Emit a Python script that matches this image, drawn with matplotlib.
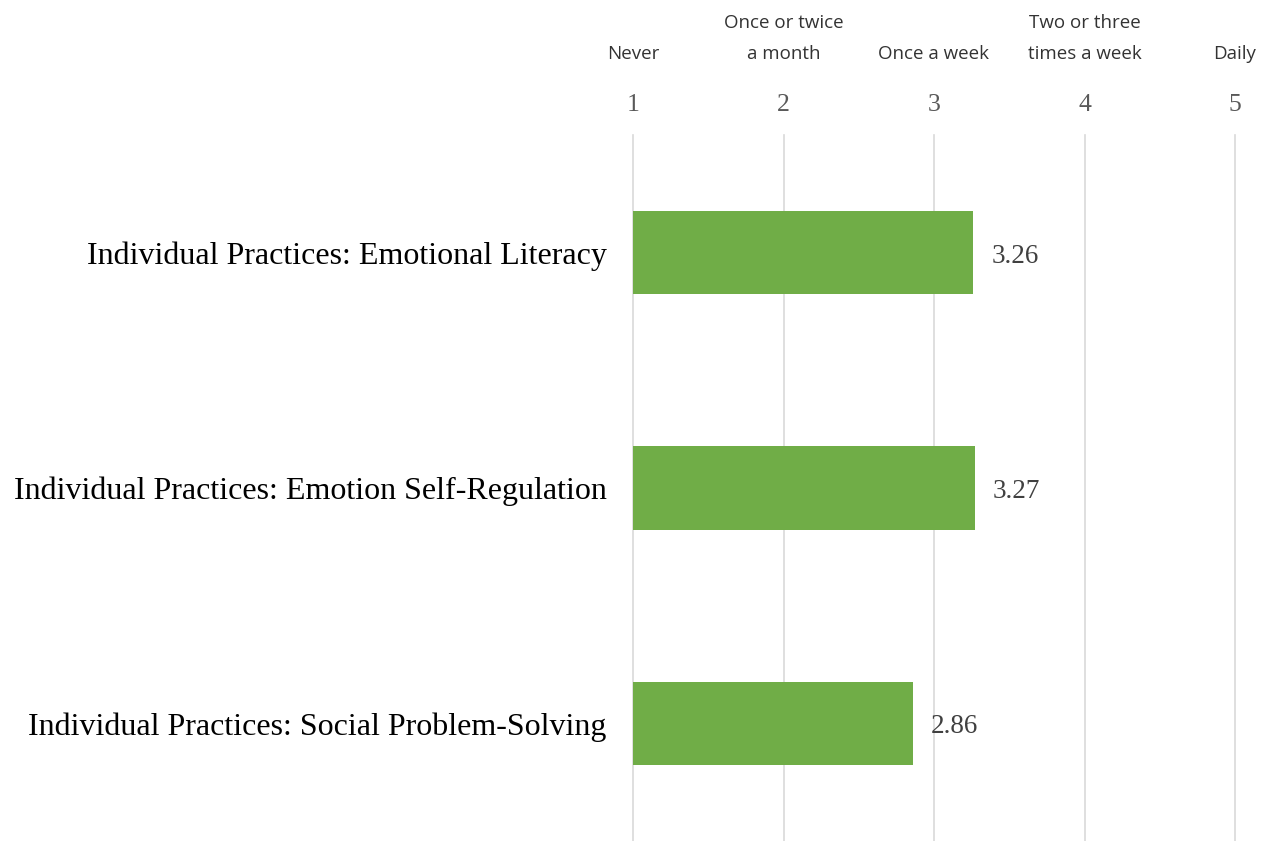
import matplotlib
matplotlib.use("Agg")
import matplotlib.pyplot as plt
import matplotlib.transforms as mtransforms

categories = [
    "Individual Practices: Emotional Literacy",
    "Individual Practices: Emotion Self-Regulation",
    "Individual Practices: Social Problem-Solving",
]
values = [3.26, 3.27, 2.86]
scale_ticks = [1, 2, 3, 4, 5]
scale_labels = ["Never", "Once or twice\na month", "Once a week",
                "Two or three\ntimes a week", "Daily"]

green = "#70AD47"
grid_grey = "#D9D9D9"
text_grey = "#404040"

fig = plt.figure(figsize=(12.84, 8.41), dpi=100)
ax = fig.add_axes([633 / 1284, 0, 602 / 1284, 1 - 135 / 841])

ypos = list(range(len(categories)))
ax.barh(ypos, [v - 1 for v in values], left=1, height=0.355, color=green, zorder=2)
for y, v in zip(ypos, values):
    ax.text(v + 0.12, y + 0.015, f"{v:.2f}", va="center", ha="left",
            family="Liberation Serif", fontsize=19.5, color=text_grey)

ax.set_xlim(1, 5)
ax.set_ylim(len(categories) - 0.5, -0.5)
ax.set_xticks(scale_ticks)
ax.set_xticklabels([str(t) for t in scale_ticks], family="Liberation Serif",
                   fontsize=18.5, color="#595959")
ax.xaxis.tick_top()
ax.tick_params(axis="x", length=0, pad=14)
ax.set_yticks(ypos)
ax.set_yticklabels(categories, family="Liberation Serif", fontsize=23, color="black")
ax.tick_params(axis="y", length=0, pad=19)
ax.xaxis.grid(True, color=grid_grey, linewidth=1.2, zorder=0)
ax.set_axisbelow(True)
for line in ax.get_xgridlines():
    line.set_clip_on(False)
for s in ax.spines.values():
    s.set_visible(False)

trans = mtransforms.blended_transform_factory(ax.transData, fig.transFigure)
for t, lab in zip(scale_ticks, scale_labels):
    ax.text(t, 1 - 63 / 841, lab, transform=trans, ha="center", va="bottom",
            family="Open Sans", fontsize=13.5, color="#333333", linespacing=1.95,
            clip_on=False)

fig.savefig("out.png", dpi=100)
